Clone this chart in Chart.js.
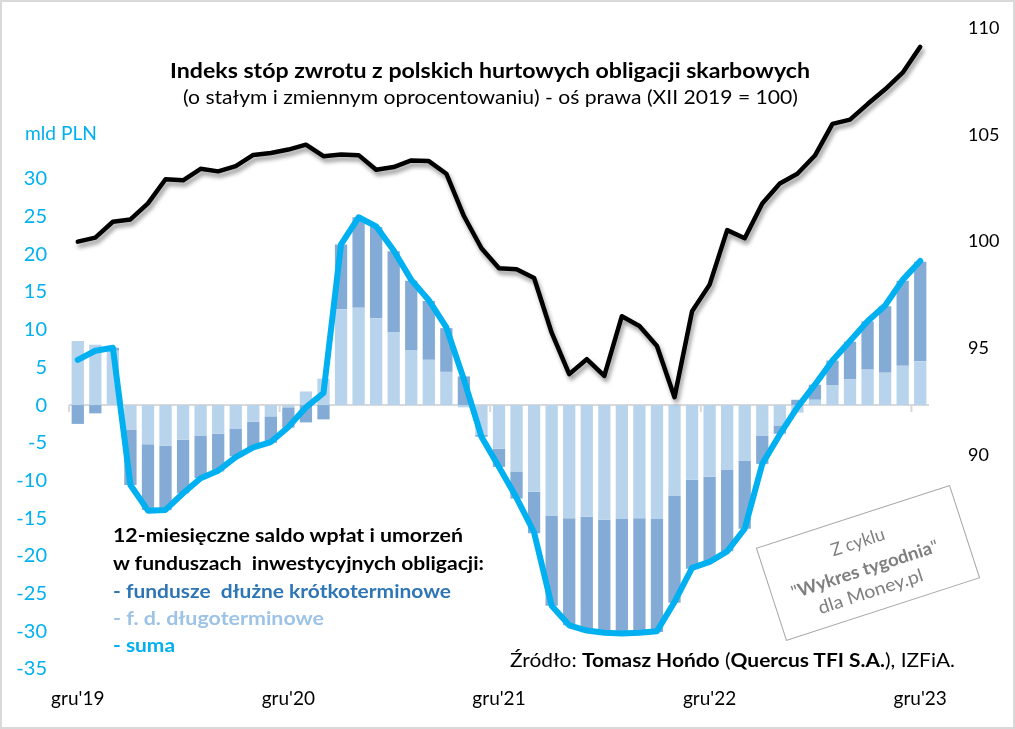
<!DOCTYPE html>
<html>
<head>
<meta charset="utf-8">
<script src="https://cdn.jsdelivr.net/npm/chart.js@4.4.1/dist/chart.umd.min.js"></script>
<style>
html,body{margin:0;padding:0;background:#fff;}
#wrap{position:relative;width:1015px;height:729px;overflow:hidden;font-family:Lato,'Open Sans',sans-serif;background:#fff;}
#c{position:absolute;left:0;top:0;}
.t{position:absolute;white-space:nowrap;transform-origin:0 50%;line-height:24px;}
#frame{position:absolute;left:0;top:0;width:1011px;height:725px;border:2px solid #D9D9D9;pointer-events:none;}
#wm{position:absolute;left:766px;top:514px;width:204px;height:98px;box-sizing:border-box;border:1.5px solid #A6A6A6;transform:rotate(-18deg);transform-origin:50% 50%;color:#7F7F7F;}
#wm .t{font-size:18px;}
</style>
</head>
<body>
<div id="wrap">
<canvas id="c" width="1015" height="729"></canvas>
<div class="t" data-w="640" style="left:170px;top:58px;font-size:21px;font-weight:bold;color:#000;">Indeks stóp zwrotu z polskich hurtowych obligacji skarbowych</div>
<div class="t" data-w="615" style="left:183px;top:85px;font-size:19px;color:#000;">(o stałym i zmiennym oprocentowaniu) - oś prawa (XII 2019 = 100)</div>
<div class="t" data-w="72" style="left:25px;top:121px;font-size:19px;color:#00B0F0;">mld PLN</div>
<div class="t" data-w="350" style="left:113px;top:523px;font-size:19.5px;font-weight:bold;color:#000;">12-miesięczne saldo wpłat i umorzeń</div>
<div class="t" data-w="371" style="left:113px;top:551px;font-size:19.5px;font-weight:bold;color:#000;">w funduszach&nbsp; inwestycyjnych obligacji:</div>
<div class="t" data-w="338" style="left:113px;top:579px;font-size:19.5px;font-weight:bold;color:#2E75B6;">- fundusze&nbsp; dłużne krótkoterminowe</div>
<div class="t" data-w="211" style="left:113px;top:606px;font-size:19.5px;font-weight:bold;color:#9DC3E6;">- f. d. długoterminowe</div>
<div class="t" data-w="62" style="left:113px;top:633px;font-size:19.5px;font-weight:bold;color:#00B0F0;">- suma</div>
<div class="t" data-w="445" style="left:510px;top:648px;font-size:19px;color:#000;">Źródło: <b>Tomasz Hońdo</b> (<b>Quercus TFI S.A.</b>), IZFiA.</div>
<div id="wm">
  <div class="t" data-w="60" style="left:70px;top:12px;">Z cyklu</div>
  <div class="t" data-w="154" style="left:19px;top:40px;">"<b>Wykres tygodnia</b>"</div>
  <div class="t" data-w="112" style="left:40px;top:63px;">dla Money.pl</div>
</div>
<div id="frame"></div>
</div>
<script>
const months = [
  "gru'19",
  "sty'20","lut'20","mar'20","kwi'20","maj'20","cze'20","lip'20","sie'20","wrz'20","paź'20","lis'20","gru'20",
  "sty'21","lut'21","mar'21","kwi'21","maj'21","cze'21","lip'21","sie'21","wrz'21","paź'21","lis'21","gru'21",
  "sty'22","lut'22","mar'22","kwi'22","maj'22","cze'22","lip'22","sie'22","wrz'22","paź'22","lis'22","gru'22",
  "sty'23","lut'23","mar'23","kwi'23","maj'23","cze'23","lip'23","sie'23","wrz'23","paź'23","lis'23","gru'23"
];
// f. d. długoterminowe (mld PLN)
const longTerm = [
  8.5, 8.0, 7.2, -3.3, -5.2, -5.4, -4.6, -4.1, -3.8, -3.1, -2.2, -1.5, -0.3,
  1.8, 3.5, 12.7, 12.9, 11.5, 9.7, 7.3, 6.0, 4.4, -0.3, -3.9, -5.8,
  -8.8, -11.5, -14.7, -15.0, -14.8, -15.2, -15.1, -15.0, -15.1, -12.0, -9.9, -9.5,
  -8.6, -7.4, -4.1, -2.7, -1.0, 0.7, 2.6, 3.4, 4.7, 4.3, 5.2, 5.8
];
// fundusze dłużne krótkoterminowe (mld PLN)
const shortTerm = [
  -2.5, -1.1, 0.4, -7.3, -8.7, -8.5, -7.1, -5.6, -5.0, -3.7, -3.5, -3.5, -2.7,
  -2.3, -1.9, 8.6, 12.0, 12.1, 10.7, 9.2, 7.8, 5.8, 3.8, -0.3, -2.4,
  -3.6, -5.5, -11.9, -14.2, -15.1, -15.1, -15.2, -15.2, -15.0, -14.2, -11.8, -11.3,
  -10.8, -9.0, -3.7, -1.1, 0.7, 2.0, 3.3, 5.0, 6.4, 8.8, 11.3, 13.2
];
// suma (mld PLN)
const suma = [
  6.0, 7.2, 7.6, -10.6, -14.0, -13.9, -11.7, -9.7, -8.7, -6.9, -5.6, -4.9, -2.9,
  -0.3, 1.6, 21.3, 24.9, 23.7, 20.5, 16.6, 13.9, 10.3, 3.4, -4.2, -8.2,
  -12.3, -16.9, -26.6, -29.2, -29.9, -30.2, -30.3, -30.2, -30.0, -26.1, -21.6, -20.8,
  -19.4, -16.4, -7.8, -3.9, -0.3, 2.7, 5.9, 8.5, 11.1, 13.2, 16.6, 19.1
];
// indeks stóp zwrotu (XII 2019 = 100), oś prawa
const bondIndex = [
  100.0, 100.19, 100.93, 101.04, 101.79, 102.92, 102.87, 103.41, 103.29, 103.54, 104.06, 104.15, 104.31,
  104.54, 104.0, 104.08, 104.05, 103.37, 103.49, 103.8, 103.77, 103.18, 101.2, 99.69, 98.76,
  98.71, 98.3, 95.74, 93.8, 94.5, 93.72, 96.51, 96.05, 95.12, 92.72, 96.74, 97.99,
  100.54, 100.16, 101.79, 102.72, 103.18, 104.03, 105.51, 105.71, 106.44, 107.13, 107.91, 109.12
];
const leftTicks = {min: -35, max: 50, step: 5, showMax: 30};
const rightTicks = {min: 80, max: 110, step: 5, showMin: 90};

// fit text widths
document.querySelectorAll('.t[data-w]').forEach(el => {
  const w = el.getBoundingClientRect().width;
  const target = parseFloat(el.dataset.w);
  if (w > 0) el.style.transform = 'scaleX(' + (target / w) + ')';
});

const FONT = "Lato, 'Open Sans', sans-serif";

function noPad(s) {
  s.paddingTop = 0; s.paddingBottom = 0; s.paddingLeft = 0; s.paddingRight = 0;
}

const axisLine = {
  id: 'axisLine',
  beforeDatasetsDraw(chart) {
    const {ctx, chartArea: a, scales} = chart;
    const x = scales.x, y = scales.y;
    const y0 = y.getPixelForValue(0);
    const w = x.getPixelForValue(1) - x.getPixelForValue(0);
    ctx.save();
    ctx.strokeStyle = '#D9D9D9';
    ctx.lineWidth = 2;
    ctx.beginPath();
    ctx.moveTo(a.left, y0);
    ctx.lineTo(a.right, y0);
    for (let i = 0; i < months.length; i += 12) {
      const px = x.getPixelForValue(i) - w / 2;
      ctx.moveTo(px, y0);
      ctx.lineTo(px, y0 + 7);
    }
    ctx.stroke();
    ctx.restore();
  }
};

const shadow = {
  id: 'shadow',
  beforeDatasetDraw(chart, args) {
    if (args.meta.dataset && chart.data.datasets[args.index].shadow) {
      const ctx = chart.ctx;
      ctx.save();
      ctx.shadowColor = 'rgba(0,0,0,0.4)';
      ctx.shadowBlur = 4;
      ctx.shadowOffsetX = 2;
      ctx.shadowOffsetY = 4;
    }
  },
  afterDatasetDraw(chart, args) {
    if (args.meta.dataset && chart.data.datasets[args.index].shadow) {
      chart.ctx.restore();
    }
  }
};

new Chart(document.getElementById('c'), {
  data: {
    labels: months,
    datasets: [
      {type: 'bar', label: 'f. d. długoterminowe', data: longTerm, backgroundColor: '#B8D3EC',
       stack: 's', order: 2, barPercentage: 0.7, categoryPercentage: 1, yAxisID: 'y'},
      {type: 'bar', label: 'fundusze dłużne krótkoterminowe', data: shortTerm, backgroundColor: '#84ABD5',
       stack: 's', order: 2, barPercentage: 0.7, categoryPercentage: 1, yAxisID: 'y'},
      {type: 'line', label: 'suma', data: suma, borderColor: '#00B0F0', borderWidth: 6,
       pointRadius: 0, tension: 0, borderJoinStyle: 'round', borderCapStyle: 'round',
       stack: 'sum', order: 1, yAxisID: 'y'},
      {type: 'line', label: 'Indeks', data: bondIndex, borderColor: '#000', borderWidth: 4.5,
       pointRadius: 0, tension: 0, borderJoinStyle: 'round', borderCapStyle: 'round',
       order: 0, yAxisID: 'y2', shadow: true}
    ]
  },
  options: {
    responsive: false,
    animation: false,
    devicePixelRatio: 1,
    layout: {autoPadding: false, padding: {top: 28, left: 0, right: 0, bottom: 0}},
    plugins: {legend: {display: false}, tooltip: {enabled: false}},
    scales: {
      x: {
        type: 'category', offset: true, stacked: true,
        grid: {display: false, drawTicks: false}, border: {display: false},
        ticks: {
          autoSkip: false, maxRotation: 0, minRotation: 0, padding: 18,
          color: '#000', font: {family: FONT, size: 19},
          callback: function(v, i) { return months[i].startsWith('gru') ? months[i] : ''; }
        },
        afterFit(s) { s.height = 60; noPad(s); }
      },
      y: {
        position: 'left', stacked: true, min: leftTicks.min, max: leftTicks.max,
        grid: {display: false, drawTicks: false}, border: {display: false},
        ticks: {
          stepSize: leftTicks.step, padding: 22, color: '#00B0F0', autoSkip: false,
          font: {family: FONT, size: 20},
          callback: v => v <= leftTicks.showMax ? v : ''
        },
        afterFit(s) { s.width = 69; noPad(s); }
      },
      y2: {
        position: 'right', min: rightTicks.min, max: rightTicks.max,
        grid: {display: false, drawTicks: false}, border: {display: false},
        ticks: {
          stepSize: rightTicks.step, padding: 39, color: '#000', autoSkip: false,
          font: {family: FONT, size: 18},
          callback: v => v >= rightTicks.showMin ? v : ''
        },
        afterFit(s) { s.width = 86; noPad(s); }
      }
    }
  },
  plugins: [axisLine, shadow]
});
</script>
</body>
</html>
